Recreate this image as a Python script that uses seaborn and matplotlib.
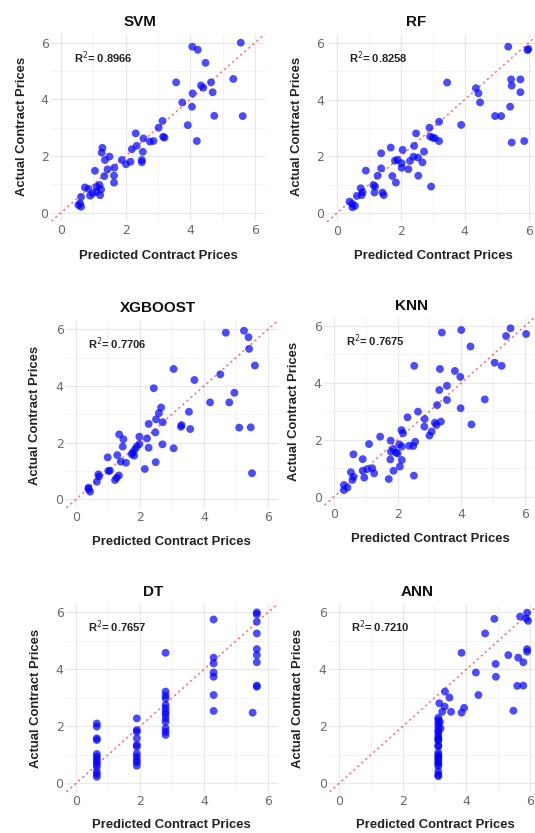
import matplotlib
matplotlib.use("Agg")
import matplotlib.pyplot as plt
import seaborn as sns
import pandas as pd

models = ["SVM", "RF", "XGBOOST", "KNN", "DT", "ANN"]
r2_values = ["0.8966", "0.8258", "0.7706", "0.7675", "0.7657", "0.7210"]
x_label = "Predicted Contract Prices"
y_label = "Actual Contract Prices"
tick_values = [0, 2, 4, 6]

svm_pred = [4.06, 4.23, 5.56, 4.47, 3.56, 4.33, 4.40, 4.64, 5.33, 4.07, 4.69, 3.75, 4.05, 4.74, 5.62,
            3.14, 3.02, 3.92, 3.16, 3.20, 4.20, 2.31, 2.55, 2.75, 2.86, 2.34, 2.19, 2.53, 2.50, 2.50,
            2.15, 2.01, 1.88, 1.28, 1.26, 1.50, 1.36, 1.44, 1.65, 1.64, 1.34, 1.64, 1.05, 1.19, 1.10,
            0.98, 0.90, 0.74, 0.85, 1.24, 1.21, 0.62, 0.59, 0.54, 0.62, 1.10]
svm_actual = [5.86, 5.75, 6.00, 5.29, 4.60, 4.49, 4.41, 4.60, 4.72, 4.21, 4.25, 3.89, 3.74, 3.42, 3.41,
              3.24, 3.00, 3.09, 2.68, 2.65, 2.53, 2.80, 2.62, 2.51, 2.53, 2.36, 2.24, 2.15, 1.86, 1.78,
              1.80, 1.71, 1.86, 2.29, 2.12, 1.98, 1.86, 1.53, 1.59, 1.31, 1.29, 1.06, 1.48, 0.98, 0.74,
              0.68, 0.60, 0.89, 0.84, 0.82, 0.62, 0.56, 0.33, 0.27, 0.21, 0.92]

rf_pred = [5.36, 5.96, 5.99, 3.45, 4.35, 4.43, 4.48, 5.45, 5.74, 5.47, 5.74, 5.42, 4.95, 5.14, 5.47,
           5.86, 3.89, 3.20, 2.90, 2.48, 2.92, 3.00, 3.07, 3.20, 2.42, 2.73, 1.69, 2.06, 1.39, 2.40,
           2.54, 2.68, 2.29, 1.82, 1.90, 2.03, 2.03, 2.24, 1.39, 0.91, 1.28, 1.74, 2.55, 1.85, 1.15,
           1.20, 2.95, 0.75, 0.81, 0.78, 1.18, 1.43, 1.47, 0.63, 0.40, 0.49, 0.57, 0.49]
rf_actual = [5.86, 5.74, 5.78, 4.60, 4.40, 4.22, 3.90, 4.71, 4.71, 4.49, 4.26, 3.75, 3.42, 3.42, 2.49,
             2.54, 3.11, 3.22, 3.01, 2.81, 2.70, 2.66, 2.64, 2.54, 2.37, 2.17, 2.31, 2.23, 2.11, 1.99,
             1.96, 1.79, 1.84, 1.85, 1.88, 1.76, 1.60, 1.55, 1.58, 1.50, 1.32, 1.31, 1.32, 1.08, 0.99,
             0.94, 0.94, 0.88, 0.74, 0.64, 0.73, 0.73, 0.64, 0.61, 0.41, 0.33, 0.26, 0.21]

xgb_pred = [4.68, 5.25, 5.39, 5.41, 5.59, 3.05, 3.70, 4.51, 2.43, 4.95, 4.19, 4.79, 2.66, 2.59, 3.53,
            2.50, 2.27, 2.71, 3.28, 3.30, 3.57, 5.10, 5.46, 5.50, 2.48, 1.35, 1.48, 2.22, 1.98, 1.46,
            1.98, 1.90, 1.84, 1.77, 1.82, 1.74, 2.27, 2.70, 3.05, 0.99, 1.29, 1.40, 1.56, 2.49, 2.15,
            1.01, 1.06, 1.34, 1.27, 1.22, 0.70, 0.72, 0.65, 0.39, 0.44, 0.39]
xgb_actual = [5.88, 5.95, 5.72, 5.31, 4.72, 4.60, 4.21, 4.41, 3.92, 3.76, 3.42, 3.42, 3.24, 3.04, 3.09,
              2.82, 2.66, 2.72, 2.56, 2.62, 2.48, 2.53, 2.54, 0.92, 2.36, 2.29, 2.12, 2.15, 2.21, 1.86,
              1.95, 1.86, 1.76, 1.65, 1.54, 1.59, 1.82, 1.94, 1.80, 1.48, 1.56, 1.33, 1.29, 1.31, 1.07,
              1.00, 1.01, 0.84, 0.76, 0.68, 0.88, 0.80, 0.62, 0.36, 0.27, 0.41]

knn_pred = [3.39, 4.00, 4.29, 5.55, 5.41, 6.04, 5.05, 5.27, 2.52, 3.33, 3.80, 3.97, 3.55, 3.31, 3.55,
            4.74, 3.24, 3.98, 2.64, 2.31, 2.85, 2.84, 3.17, 3.22, 3.36, 4.32, 3.07, 3.00, 2.12, 2.17,
            1.45, 1.78, 1.10, 2.55, 2.36, 2.49, 2.05, 2.13, 1.86, 1.79, 1.95, 2.00, 0.61, 0.90, 1.77,
            2.13, 1.20, 1.04, 1.87, 2.07, 1.26, 0.53, 0.90, 0.95, 0.61, 0.58, 1.72, 2.51, 0.31, 0.42,
            0.31]
knn_actual = [5.77, 5.86, 5.28, 5.92, 5.65, 5.72, 4.71, 4.60, 4.60, 4.49, 4.42, 4.21, 3.90, 3.75, 3.40,
              3.42, 3.22, 3.11, 2.99, 2.79, 2.73, 2.46, 2.60, 2.52, 2.64, 2.54, 2.29, 2.15, 2.34, 2.23,
              2.11, 1.97, 1.85, 1.93, 1.79, 1.78, 1.84, 1.76, 1.68, 1.58, 1.55, 1.52, 1.49, 1.32, 1.31,
              1.29, 1.00, 0.97, 0.91, 1.06, 0.82, 0.86, 0.91, 0.67, 0.70, 0.59, 0.62, 0.74, 0.41, 0.32,
              0.23]

dt_pred = [0.65, 0.65, 0.65, 0.65, 0.65, 0.65, 0.65, 0.65, 0.65, 0.65, 0.65, 0.65, 0.65,
           1.90, 1.90, 1.90, 1.90, 1.90, 1.90, 1.90, 1.90, 1.90, 1.90, 1.90,
           2.80, 2.80, 2.80, 2.80, 2.80, 2.80, 2.80, 2.80, 2.80, 2.80, 2.80, 2.80, 2.80,
           4.30, 4.30, 4.30, 4.30, 4.30, 4.30, 4.30,
           5.65, 5.65, 5.65, 5.65, 5.65, 5.65, 5.65, 5.65, 5.65, 5.52]
dt_actual = [2.10, 1.99, 1.58, 1.52, 1.03, 0.94, 0.84, 0.76, 0.67, 0.58, 0.41, 0.32, 0.23,
             2.28, 1.87, 1.81, 1.58, 1.35, 1.29, 1.05, 0.94, 0.82, 0.74, 0.62,
             4.58, 3.22, 3.08, 2.98, 2.75, 2.63, 2.51, 2.42, 2.28, 2.16, 1.93, 1.81, 1.70,
             5.75, 4.41, 4.21, 3.89, 3.74, 3.10, 2.54,
             6.00, 5.93, 5.67, 5.26, 4.71, 4.50, 4.25, 3.43, 3.39, 2.48]

ann_pred = [5.91, 5.94, 5.88, 5.69, 4.88, 4.59, 3.85, 5.91, 5.91, 5.32, 5.63, 5.79, 4.92, 4.30, 4.93,
            5.60, 5.79, 4.38, 3.33, 3.47, 3.15, 3.32, 3.93, 3.52, 3.85, 5.48, 3.24,
            3.12, 3.12, 3.17, 3.12, 3.12, 3.19, 3.12, 3.12, 3.12, 3.12, 3.12, 3.12, 3.12, 3.12, 3.12,
            3.12, 3.12, 3.12, 3.12, 3.12, 3.12, 3.12, 3.12, 3.12, 3.12]
ann_actual = [5.99, 5.70, 5.79, 5.85, 5.77, 5.26, 4.58, 4.71, 4.62, 4.50, 4.41, 4.25, 4.19, 3.89, 3.74,
              3.42, 3.43, 3.10, 3.22, 3.01, 2.81, 2.69, 2.65, 2.51, 2.48, 2.55, 2.51,
              2.30, 2.22, 2.16, 2.10, 2.00, 1.93, 1.87, 1.80, 1.70, 1.60, 1.50, 1.33, 1.30, 1.08, 1.00,
              0.94, 0.88, 0.82, 0.74, 0.68, 0.60, 0.41, 0.30, 0.25, 1.55]

preds = [svm_pred, rf_pred, xgb_pred, knn_pred, dt_pred, ann_pred]
actuals = [svm_actual, rf_actual, xgb_actual, knn_actual, dt_actual, ann_actual]

sns.set_theme(style="white")
W, H = 535, 833
fig = plt.figure(figsize=(W / 100, H / 100), dpi=100)
fig.patch.set_facecolor("white")

# panel boxes in pixels: left, right, top, bottom
boxes = [(51.3, 264.7, 34.2, 221.2), (327.1, 538.3, 34.2, 221.8),
         (66.4, 277.6, 320.8, 507.8), (324.5, 534.4, 317.5, 505.2),
         (66.4, 277.6, 603.8, 791.9), (329.5, 539.5, 603.8, 791.9)]
title_pos = [(140, 21.7), (415.7, 21.7), (158.3, 308.3), (411.7, 305.7), (153.3, 591.7), (416.7, 591.7)]
xlab_pos = [(158, 255.7), (433.3, 255.7), (171.7, 541.7), (430, 539.3), (171.7, 825), (435, 825)]
ylab_pos = [(22, 126.7), (296.7, 126.7), (35, 415), (294.3, 411.7), (36, 698.3), (298.3, 698.3)]

bold_font = ["Liberation Sans", "DejaVu Sans"]
narrow_font = ["Liberation Sans Narrow", "Liberation Sans", "DejaVu Sans"]

for i, name in enumerate(models):
    l, r, t, b = boxes[i]
    ax = fig.add_axes([l / W, 1 - b / H, (r - l) / W, (b - t) / H])
    ax.set_facecolor("white")
    df = pd.DataFrame({"pred": preds[i], "actual": actuals[i]})
    ax.set_xlim(-0.3, 6.3)
    ax.set_ylim(-0.3, 6.3)
    ax.plot([-0.3, 6.3], [-0.3, 6.3], linestyle=(0, (1.5, 2)), color="red", alpha=0.55, lw=1.1, zorder=1)
    sns.scatterplot(data=df, x="pred", y="actual", ax=ax, color="blue", alpha=0.7,
                    s=32, edgecolor="none", zorder=3)
    ax.set_xticks(tick_values)
    ax.set_yticks(tick_values)
    ax.set_xticks([1, 3, 5], minor=True)
    ax.set_yticks([1, 3, 5], minor=True)
    ax.grid(which="major", color="#e8e8e8", lw=0.9)
    ax.grid(which="minor", color="#f1f1f1", lw=0.6)
    ax.set_axisbelow(True)
    for s in ax.spines.values():
        s.set_visible(False)
    ax.tick_params(axis="both", which="both", length=0, labelsize=9, colors="#6b6b6b", pad=2)
    ax.set_xlabel("")
    ax.set_ylabel("")
    ax.text(1.3, 5.48, "R$^{2}$= " + r2_values[i], ha="center", va="center",
            fontsize=8, fontweight="bold", family=narrow_font, color="#222222")
    tx, ty = title_pos[i]
    fig.text(tx / W, 1 - ty / H, name, ha="center", va="center", fontsize=11,
             fontweight="bold", family=bold_font, color="#111111")
    xx, xy = xlab_pos[i]
    fig.text(xx / W, 1 - xy / H, x_label, ha="center", va="center", fontsize=9.4,
             fontweight="bold", family=bold_font, color="#222222")
    yx, yy = ylab_pos[i]
    fig.text(yx / W, 1 - yy / H, y_label, ha="center", va="center", fontsize=9.4,
             fontweight="bold", family=bold_font, color="#222222", rotation=90)

fig.savefig("out.png", dpi=100, facecolor="white")
